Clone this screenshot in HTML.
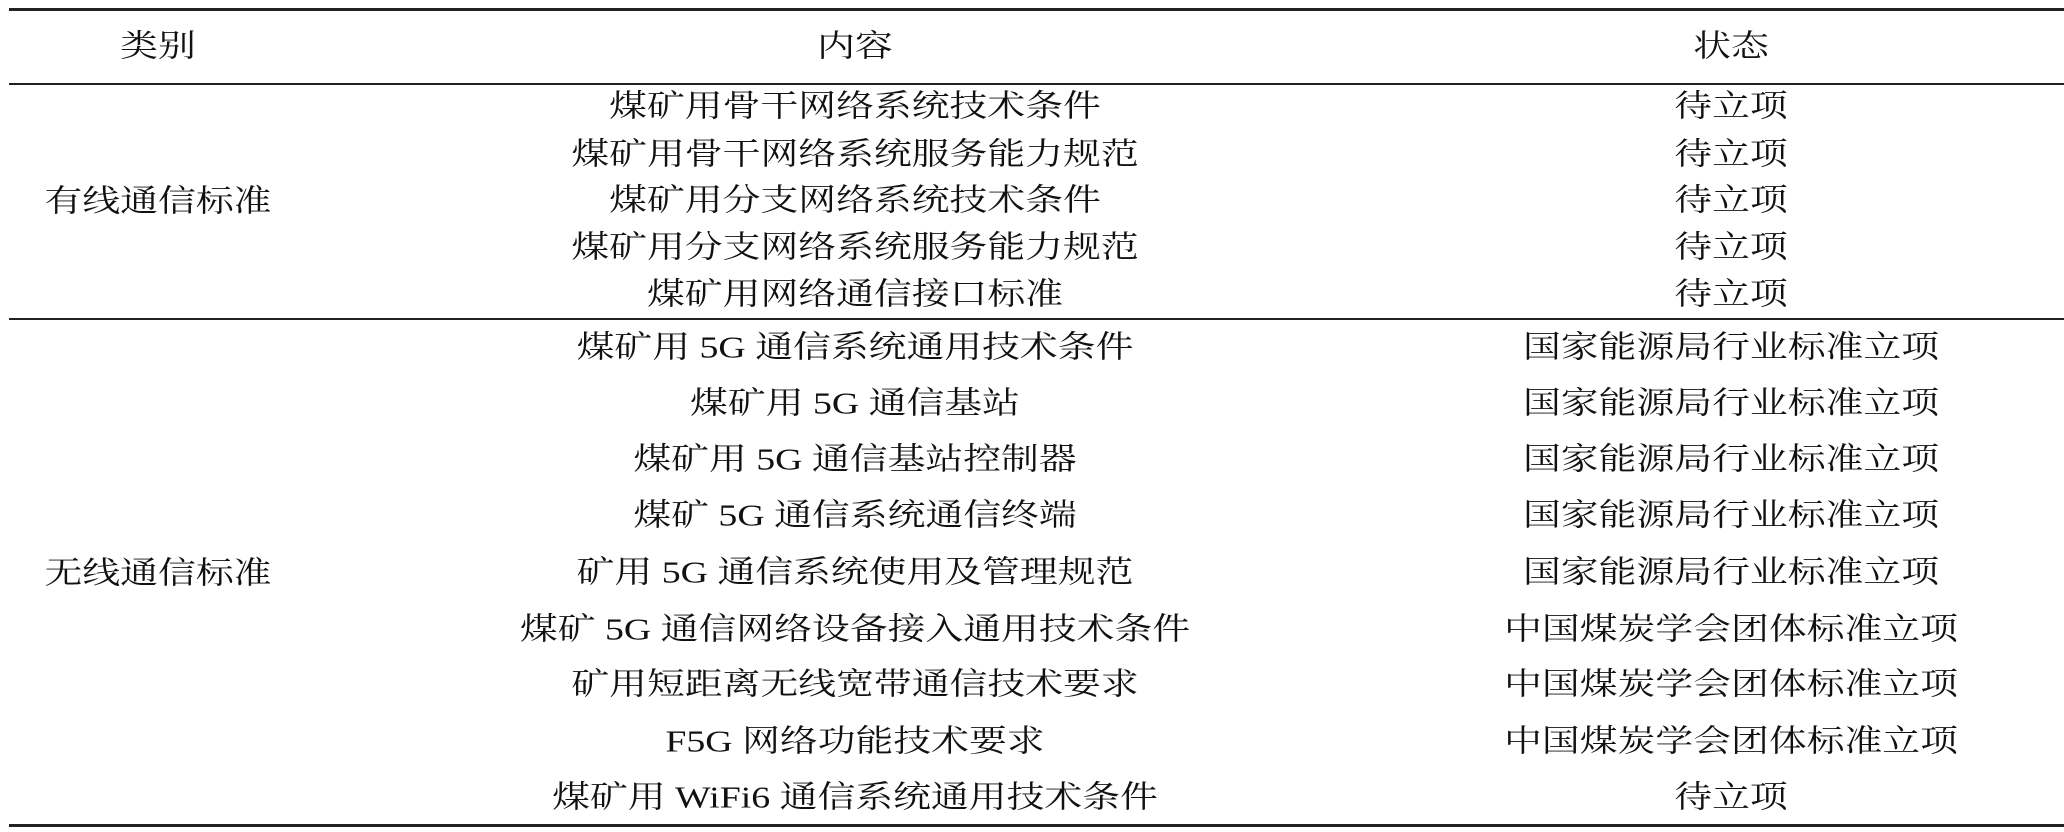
<!DOCTYPE html>
<html><head><meta charset="utf-8"><style>
html,body{margin:0;padding:0;background:#fff;}
body{width:2064px;height:832px;position:relative;overflow:hidden;font-family:"Liberation Serif","Noto Serif CJK SC",serif;color:#111;}
.l{position:absolute;left:9px;right:0;background:#222;}
.t{position:absolute;white-space:nowrap;font-size:31px;line-height:1;transform:translate(-50%,-50%) scaleX(1.22);}
</style></head><body>
<div class="l" style="top:8px;height:3px"></div>
<div class="l" style="top:83px;height:2px"></div>
<div class="l" style="top:318px;height:2px"></div>
<div class="l" style="top:824px;height:3px"></div>

<div class="t" style="left:158px;top:46px">类别</div>
<div class="t" style="left:855px;top:46px">内容</div>
<div class="t" style="left:1731px;top:46px">状态</div>

<div class="t" style="left:158px;top:201px">有线通信标准</div>
<div class="t" style="left:158px;top:573px">无线通信标准</div>

<div class="t" style="left:855px;top:106px">煤矿用骨干网络系统技术条件</div>
<div class="t" style="left:855px;top:154px">煤矿用骨干网络系统服务能力规范</div>
<div class="t" style="left:855px;top:200px">煤矿用分支网络系统技术条件</div>
<div class="t" style="left:855px;top:247px">煤矿用分支网络系统服务能力规范</div>
<div class="t" style="left:855px;top:294px">煤矿用网络通信接口标准</div>
<div class="t" style="left:855px;top:347px">煤矿用 5G 通信系统通用技术条件</div>
<div class="t" style="left:855px;top:403px">煤矿用 5G 通信基站</div>
<div class="t" style="left:855px;top:459px">煤矿用 5G 通信基站控制器</div>
<div class="t" style="left:855px;top:515px">煤矿 5G 通信系统通信终端</div>
<div class="t" style="left:855px;top:572px">矿用 5G 通信系统使用及管理规范</div>
<div class="t" style="left:855px;top:629px">煤矿 5G 通信网络设备接入通用技术条件</div>
<div class="t" style="left:855px;top:684px">矿用短距离无线宽带通信技术要求</div>
<div class="t" style="left:855px;top:741px">F5G 网络功能技术要求</div>
<div class="t" style="left:855px;top:797px">煤矿用 WiFi6 通信系统通用技术条件</div>

<div class="t" style="left:1731px;top:106px">待立项</div>
<div class="t" style="left:1731px;top:154px">待立项</div>
<div class="t" style="left:1731px;top:200px">待立项</div>
<div class="t" style="left:1731px;top:247px">待立项</div>
<div class="t" style="left:1731px;top:294px">待立项</div>
<div class="t" style="left:1731px;top:347px">国家能源局行业标准立项</div>
<div class="t" style="left:1731px;top:403px">国家能源局行业标准立项</div>
<div class="t" style="left:1731px;top:459px">国家能源局行业标准立项</div>
<div class="t" style="left:1731px;top:515px">国家能源局行业标准立项</div>
<div class="t" style="left:1731px;top:572px">国家能源局行业标准立项</div>
<div class="t" style="left:1731px;top:629px">中国煤炭学会团体标准立项</div>
<div class="t" style="left:1731px;top:684px">中国煤炭学会团体标准立项</div>
<div class="t" style="left:1731px;top:741px">中国煤炭学会团体标准立项</div>
<div class="t" style="left:1731px;top:797px">待立项</div>
</body></html>
